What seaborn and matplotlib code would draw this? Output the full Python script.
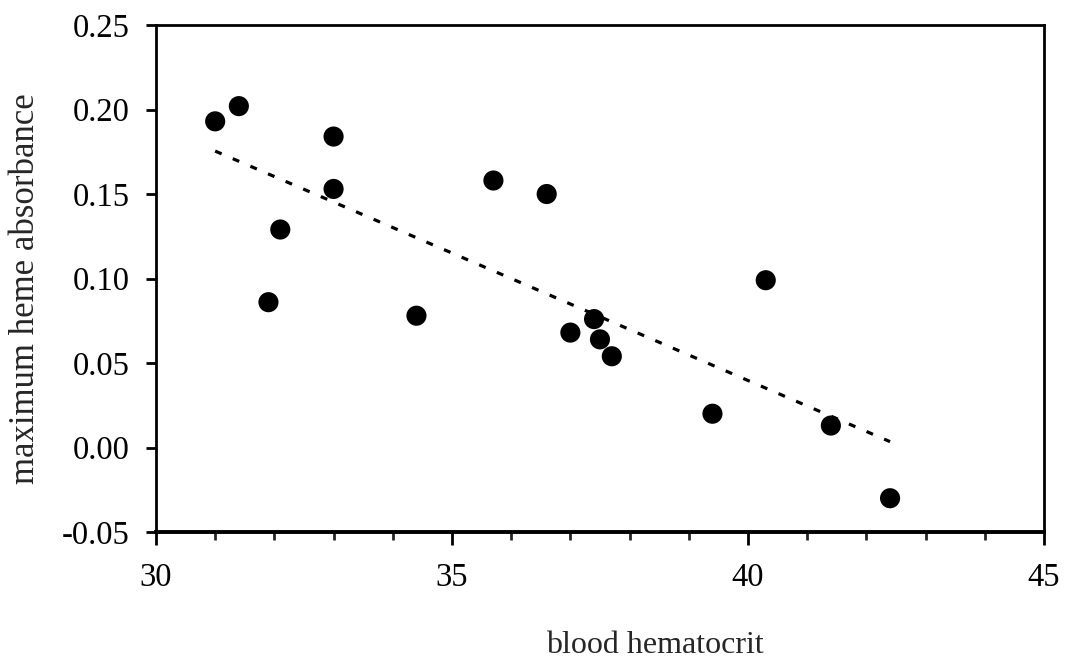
import numpy as np
import pandas as pd
import matplotlib
matplotlib.use("Agg")
import matplotlib.pyplot as plt
from matplotlib.ticker import MultipleLocator, FormatStrFormatter
import seaborn as sns

# values
hematocrit = [31.0, 31.4, 33.0, 33.0, 32.1, 31.9, 35.7, 36.6, 40.3,
              34.4, 37.0, 37.4, 37.5, 37.7, 39.4, 41.4, 42.4]
heme_abs = [0.193, 0.202, 0.184, 0.153, 0.129, 0.086, 0.158, 0.150, 0.099,
            0.078, 0.068, 0.076, 0.064, 0.054, 0.020, 0.013, -0.030]

df = pd.DataFrame({"hct": hematocrit, "abs": heme_abs})

sns.set_style("ticks")
plt.rcParams["font.family"] = ["Liberation Serif", "DejaVu Serif"]

fig = plt.figure(figsize=(10.69, 6.60), dpi=100)
ax = fig.add_axes([0.1459, 0.1939, 0.8307, 0.7682])

# least-squares trend line (dotted), limited to the data range
sns.regplot(data=df, x="hct", y="abs", scatter=False, ci=None, truncate=True,
            color="black", line_kws={"linestyle": (0, (2.2, 3.8)), "linewidth": 2.3},
            ax=ax)
sns.scatterplot(data=df, x="hct", y="abs", s=210, color="black",
                edgecolor="none", ax=ax, zorder=3)

ax.set_xlim(30, 45)
ax.set_ylim(-0.05, 0.25)
ax.xaxis.set_major_locator(MultipleLocator(5))
ax.xaxis.set_minor_locator(MultipleLocator(1))
ax.yaxis.set_major_locator(MultipleLocator(0.05))
ax.yaxis.set_major_formatter(FormatStrFormatter("%.2f"))

ax.tick_params(axis="x", which="major", direction="out", length=9, width=2,
               pad=13, labelsize=23.5, colors="black")
ax.tick_params(axis="x", which="minor", direction="out", length=6, width=2)
ax.tick_params(axis="y", which="major", direction="out", length=7, width=2,
               pad=12, labelsize=23.5, colors="black")

for side in ["left", "right", "top", "bottom"]:
    ax.spines[side].set_visible(True)
    ax.spines[side].set_linewidth(2)
    ax.spines[side].set_color("black")
ax.spines["bottom"].set_linewidth(2.8)

ax.set_xlabel("blood hematocrit", fontsize=23)
ax.set_ylabel("maximum heme absorbance", fontsize=25)
ax.xaxis.set_label_coords(0.562, -0.195)
ax.yaxis.set_label_coords(-0.128, 0.481)

fig.savefig("out.png", dpi=100, facecolor="white")
